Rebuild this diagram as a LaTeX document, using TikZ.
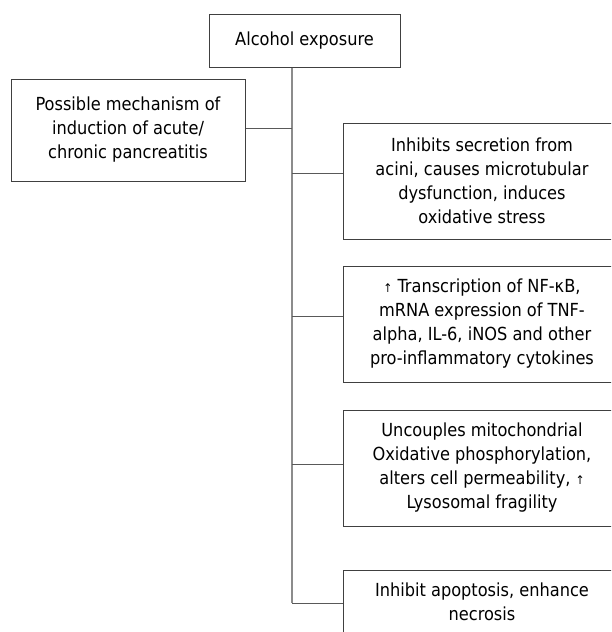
\documentclass[tikz,border=0pt]{standalone}
\usepackage{fontspec}
\setmainfont{DejaVu Sans Condensed}
\definecolor{boxline}{gray}{0.25}
\definecolor{trunkgray}{gray}{0.55}
\definecolor{branchgray}{gray}{0.35}
\newcommand{\uparr}{{\fontsize{12}{24}\selectfont ↑}}

\begin{document}
\begin{tikzpicture}[x=1pt,y=-1pt,
	box/.style={draw=boxline,line width=1pt,inner sep=0pt,align=center,font=\fontsize{18}{24}\selectfont},
	effect/.style={box,minimum width=278pt,minimum height=116pt},
	trunk/.style={draw=trunkgray,line width=1.4pt},
	branch/.style={draw=branchgray,line width=1pt}]
	\useasboundingbox (0,0) rectangle (611,632);
	\clip (0,0) rectangle (611,632);
	\node[box,minimum width=191pt,minimum height=53pt] (alc) at (304.5,40.5) {Alcohol exposure};
	\node[box,minimum width=234pt,minimum height=102pt] (mech) at (128,130) {Possible mechanism of\\induction of acute/\\chronic pancreatitis};
	\node[effect] (secr) at (482,181) {Inhibits secretion from\\acini, causes microtubular\\dysfunction, induces\\oxidative stress};
	\node[effect] (nfkb) at (482,324) {\uparr\ Transcription of NF-κB,\\mRNA expression of TNF-\\alpha, IL-6, iNOS and other\\pro-inflammatory cytokines};
	\node[effect] (mito) at (482,468) {Uncouples mitochondrial\\ Oxidative phosphorylation,\\alters cell permeability, \uparr\\Lysosomal fragility};
	\node[effect] (apop) at (482,628) {Inhibit apoptosis, enhance\\necrosis\\[28pt]};
	\coordinate (j0) at (292,128);
	\coordinate (j1) at (292,173);
	\coordinate (j2) at (292,316);
	\coordinate (j3) at (292,464);
	\coordinate (j4) at (292,603);
	\draw[trunk] (alc.south -| j4) -- (j4);
	\draw[branch] (mech.east |- j0) -- (j0);
	\draw[branch] (j1) -- (j1 -| secr.west);
	\draw[branch] (j2) -- (j2 -| nfkb.west);
	\draw[branch] (j3) -- (j3 -| mito.west);
	\draw[branch] (j4) -- (j4 -| apop.west);
\end{tikzpicture}
\end{document}
